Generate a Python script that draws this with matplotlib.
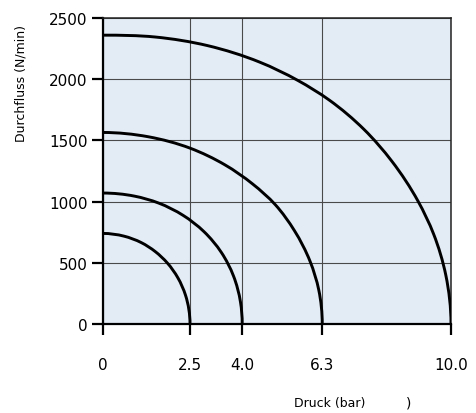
import matplotlib
matplotlib.use("Agg")
import matplotlib.pyplot as plt
from matplotlib.path import Path
from matplotlib.patches import PathPatch

# Kennlinien (Druck in bar, Durchfluss in N/min)
druck_25 = [0, 0.6, 1.1, 1.5, 1.85, 2.15, 2.37, 2.5]
fluss_25 = [740, 718, 665, 592, 498, 378, 236, 0]

druck_40 = [0, 0.9, 1.6, 2.3, 2.9, 3.4, 3.75, 3.95, 4.0]
fluss_40 = [1070, 1045, 988, 888, 755, 585, 392, 180, 0]

druck_63 = [0, 1.3, 2.5, 3.5, 4.3, 4.95, 5.5, 5.95, 6.2, 6.3]
fluss_63 = [1565, 1530, 1437, 1301, 1144, 975, 763, 512, 278, 0]

druck_100 = [0, 1.5, 3.0, 4.5, 5.6, 6.5, 7.5, 8.3, 9.05, 9.5, 9.85, 10.0]
fluss_100 = [2360, 2345, 2275, 2140, 1990, 1830, 1590, 1330, 1005, 735, 400, 0]

x_ticks = [0, 2.5, 4.0, 6.3, 10.0]
x_labels = ["0", "2.5", "4.0", "6.3", "10.0"]
y_ticks = [0, 500, 1000, 1500, 2000, 2500]


def glatte_kurve(xs, ys):
    pts = list(zip(xs, ys))
    # gespiegelte Hilfspunkte: waagerecht an der y-Achse, senkrecht an der x-Achse
    pts = [(-pts[1][0], pts[1][1])] + pts + [(pts[-2][0], -pts[-2][1])]
    # Parameter nach Abstand in normierten Achsenkoordinaten
    t = [0.0]
    for a, b in zip(pts[:-1], pts[1:]):
        d = (((b[0] - a[0]) / 10) ** 2 + ((b[1] - a[1]) / 2500) ** 2) ** 0.5
        t.append(t[-1] + d)

    def tangente(i):
        p0, p1, p2 = pts[i - 1], pts[i], pts[i + 1]
        t0, t1, t2 = t[i - 1], t[i], t[i + 1]
        return tuple((p1[k] - p0[k]) / (t1 - t0) - (p2[k] - p0[k]) / (t2 - t0)
                     + (p2[k] - p1[k]) / (t2 - t1) for k in range(2))

    verts = [pts[1]]
    codes = [Path.MOVETO]
    for i in range(1, len(pts) - 2):
        m1, m2 = tangente(i), tangente(i + 1)
        dt = t[i + 1] - t[i]
        p1, p2 = pts[i], pts[i + 1]
        c1 = (p1[0] + m1[0] * dt / 3, p1[1] + m1[1] * dt / 3)
        c2 = (p2[0] - m2[0] * dt / 3, p2[1] - m2[1] * dt / 3)
        verts += [c1, c2, p2]
        codes += [Path.CURVE4] * 3
    return Path(verts, codes)


fig = plt.figure(figsize=(4.76, 4.14), dpi=100)
ax = fig.add_axes([0.2164, 0.215, 0.7311, 0.739])
ax.set_facecolor("#e3ebf5")

for xs, ys in [(druck_25, fluss_25), (druck_40, fluss_40),
               (druck_63, fluss_63), (druck_100, fluss_100)]:
    ax.add_patch(PathPatch(glatte_kurve(xs, ys), fill=False,
                           edgecolor="black", lw=2.1, zorder=3))

ax.set_xlim(0, 10)
ax.set_ylim(0, 2500)
ax.set_xticks(x_ticks)
ax.set_xticklabels(x_labels)
ax.set_yticks(y_ticks)

ax.grid(True, color="#4a4a4a", lw=0.8)
ax.set_axisbelow(True)

for side in ["left", "bottom"]:
    ax.spines[side].set_linewidth(1.6)
for side in ["top", "right"]:
    ax.spines[side].set_linewidth(1.1)
    ax.spines[side].set_color("#222222")

ax.tick_params(axis="both", direction="out", length=8, width=1.6,
               labelsize=11, colors="black")
ax.tick_params(axis="x", pad=16)
ax.tick_params(axis="y", pad=3)

ax.set_xlabel("Druck (bar)", fontsize=9)
ax.xaxis.set_label_coords(0.652, -0.235)
ax.set_ylabel("Durchfluss (N/min)", fontsize=9)
ax.yaxis.set_label_coords(-0.218, 0.788)

ax.text(0.877, -0.255, ")", transform=ax.transAxes, fontsize=10,
        ha="center", va="center")

plt.savefig("out.png", dpi=100)
